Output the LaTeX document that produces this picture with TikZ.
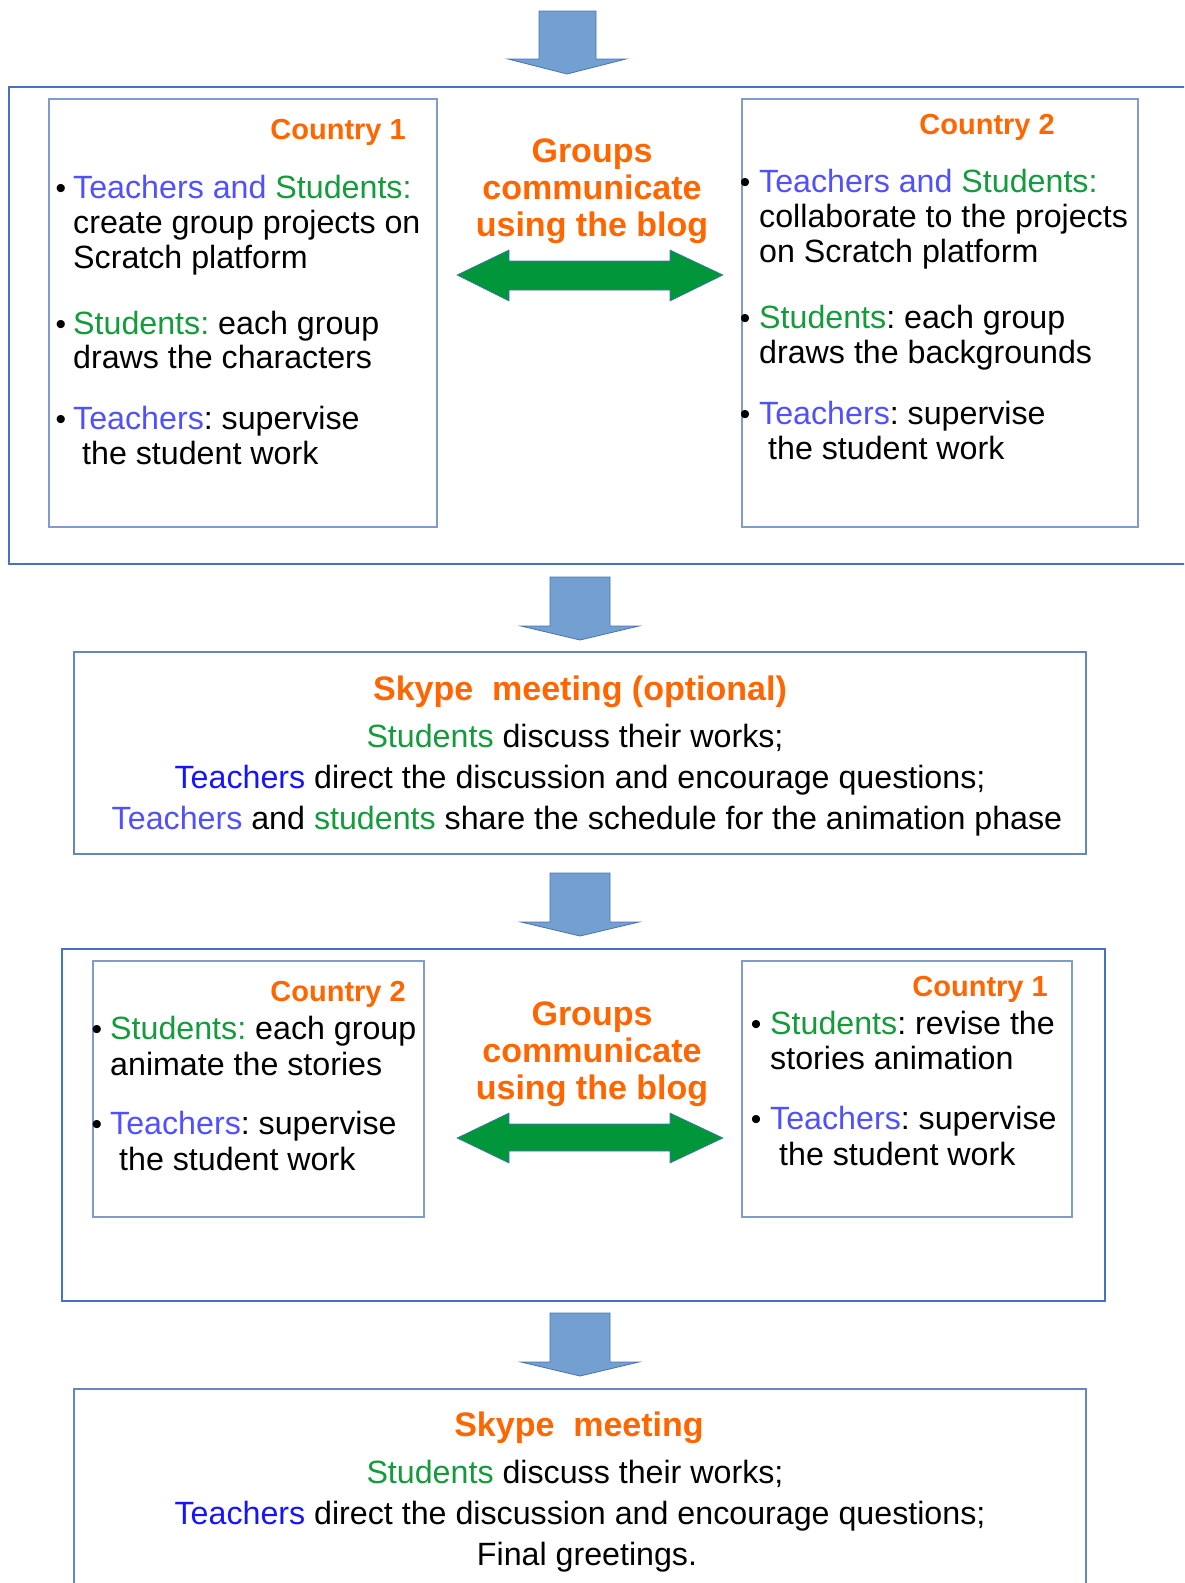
\documentclass[tikz,border=0pt]{standalone}
\usepackage{fontspec}
\setmainfont{Liberation Sans}
\frenchspacing
\definecolor{outerblue}{RGB}{68,114,196}
\definecolor{innerblue}{RGB}{130,155,205}
\definecolor{skypeblue}{RGB}{100,135,195}
\definecolor{arrowfill}{RGB}{116,160,209}
\definecolor{arrowedge}{RGB}{70,115,180}
\definecolor{linkgreen}{RGB}{0,150,57}
\definecolor{headorange}{RGB}{255,102,0}
\definecolor{teachblue}{RGB}{80,80,255}
\definecolor{deepblue}{RGB}{20,20,255}
\definecolor{studgreen}{RGB}{20,155,60}
\newcommand{\tch}[1]{\textcolor{teachblue}{#1}}
\newcommand{\tchd}[1]{\textcolor{deepblue}{#1}}
\newcommand{\stu}[1]{\textcolor{studgreen}{#1}}
\begin{document}
\begin{tikzpicture}[x=1pt,y=-1pt,
  outerbox/.style={draw=outerblue,line width=1.3pt},
  innerbox/.style={draw=innerblue,line width=1.3pt},
  skypebox/.style={draw=skypeblue,line width=1.3pt},
  downarrow/.style={fill=arrowfill,draw=arrowedge,line width=0.8pt,line join=miter},
  linkarrow/.style={fill=linkgreen,draw=outerblue,line width=0.6pt,line join=miter},
  body/.style={inner sep=0pt,anchor=base west,font=\fontsize{32.2}{35}\selectfont},
  bodyc/.style={inner sep=0pt,anchor=base,font=\fontsize{32.2}{35}\selectfont},
  dot/.style={inner sep=0pt,anchor=base,font=\fontsize{30}{35}\selectfont},
  cty/.style={inner sep=0pt,anchor=base east,text=headorange,font=\bfseries\fontsize{29}{32}\selectfont},
  big/.style={inner sep=0pt,anchor=base,text=headorange,font=\bfseries\fontsize{34}{37}\selectfont}]
\useasboundingbox (0,0) rectangle (1184,1583);
\clip (0,0) rectangle (1184,1583);

% ---- frames ----
\draw[outerbox] (9,87) rectangle (1200,564);
\draw[innerbox] (49,99) rectangle (437,527);
\draw[innerbox] (742,99) rectangle (1138,527);
\draw[skypebox] (74,652) rectangle (1086,854);
\draw[outerbox] (62,949) rectangle (1105,1301);
\draw[innerbox] (93,961) rectangle (424,1217);
\draw[innerbox] (742,961) rectangle (1072,1217);
\draw[skypebox] (74,1389) rectangle (1086,1600);

% ---- downward block arrows ----
\draw[downarrow] (539,11) -- (596,11) -- (596,59) -- (626,59) -- (567,74) -- (508,59) -- (539,59) -- cycle;
\draw[downarrow] (550,577) -- (610,577) -- (610,626) -- (639,626) -- (580,640) -- (521,626) -- (550,626) -- cycle;
\draw[downarrow] (550,873) -- (610,873) -- (610,922) -- (639,922) -- (580,936) -- (521,922) -- (550,922) -- cycle;
\draw[downarrow] (550,1313) -- (610,1313) -- (610,1362) -- (639,1362) -- (580,1376) -- (521,1362) -- (550,1362) -- cycle;

% ---- green two-way arrows ----
\draw[linkarrow] (457,275) -- (509,250) -- (509,261) -- (670,261) -- (670,250) -- (723,275) -- (670,301) -- (670,290) -- (509,290) -- (509,301) -- cycle;
\draw[linkarrow] (457,1138) -- (509,1113) -- (509,1124) -- (670,1124) -- (670,1113) -- (723,1138) -- (670,1163) -- (670,1151) -- (509,1151) -- (509,1163) -- cycle;

% ---- first exchange ----
\node[big] (g1a) at (592,162) {Groups};
\node[big] (g1b) at (592,199) {communicate};
\node[big] (g1c) at (592,236) {using the blog};

\node[cty] (c1h) at (406,139) {Country 1};
\node[dot] (c1d1) at (61,198) {•};
\node[body] (c1l1) at (73,198) {\tch{Teachers and }\stu{Students:}};
\node[body] (c1l2) at (73,233) {create group projects on};
\node[body] (c1l3) at (73,268) {Scratch platform};
\node[dot] (c1d2) at (61,334) {•};
\node[body] (c1l4) at (73,334) {\stu{Students:} each group};
\node[body] (c1l5) at (73,368) {draws the characters};
\node[dot] (c1d3) at (61,429) {•};
\node[body] (c1l6) at (73,429) {\tch{Teachers}: supervise};
\node[body] (c1l7) at (82,464) {the student work};

\node[cty] (c2h) at (1055,134) {Country 2};
\node[dot] (c2d1) at (745,192) {•};
\node[body] (c2l1) at (759,192) {\tch{Teachers and }\stu{Students:}};
\node[body] (c2l2) at (759,227) {collaborate to the projects};
\node[body] (c2l3) at (759,262) {on Scratch platform};
\node[dot] (c2d2) at (745,328) {•};
\node[body] (c2l4) at (759,328) {\stu{Students}: each group};
\node[body] (c2l5) at (759,363) {draws the backgrounds};
\node[dot] (c2d3) at (745,424) {•};
\node[body] (c2l6) at (759,424) {\tch{Teachers}: supervise};
\node[body] (c2l7) at (768,459) {the student work};

% ---- optional meeting ----
\node[big] (s1h) at (580,700) {Skype\ \ meeting (optional)};
\node[bodyc] (s1l1) at (575,747) {\stu{Students} discuss their works;};
\node[bodyc] (s1l2) at (580,788) {\tchd{Teachers} direct the discussion and encourage questions;};
\node[bodyc] (s1l3) at (587,829) {\tch{Teachers} and \stu{students} share the schedule for the animation phase};

% ---- second exchange ----
\node[big] (g2a) at (592,1025) {Groups};
\node[big] (g2b) at (592,1062) {communicate};
\node[big] (g2c) at (592,1099) {using the blog};

\node[cty] (d2h) at (406,1001) {Country 2};
\node[dot] (d2d1) at (97,1039) {•};
\node[body] (d2l1) at (110,1039) {\stu{Students:} each group};
\node[body] (d2l2) at (110,1075) {animate the stories};
\node[dot] (d2d2) at (97,1134) {•};
\node[body] (d2l3) at (110,1134) {\tch{Teachers}: supervise};
\node[body] (d2l4) at (119,1170) {the student work};

\node[cty] (d1h) at (1048,996) {Country 1};
\node[dot] (d1d1) at (756,1034) {•};
\node[body] (d1l1) at (770,1034) {\stu{Students}: revise the};
\node[body] (d1l2) at (770,1069) {stories animation};
\node[dot] (d1d2) at (756,1129) {•};
\node[body] (d1l3) at (770,1129) {\tch{Teachers}: supervise};
\node[body] (d1l4) at (779,1165) {the student work};

% ---- final meeting ----
\node[big] (s2h) at (579,1436) {Skype\ \ meeting};
\node[bodyc] (s2l1) at (575,1483) {\stu{Students} discuss their works;};
\node[bodyc] (s2l2) at (580,1524) {\tchd{Teachers} direct the discussion and encourage questions;};
\node[bodyc] (s2l3) at (587,1565) {Final greetings.};
\end{tikzpicture}
\end{document}
